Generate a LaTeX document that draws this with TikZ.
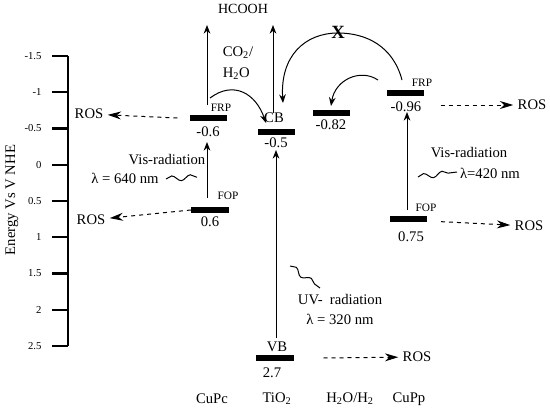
\documentclass[tikz,border=0pt]{standalone}
\usepackage{fontspec}
\setmainfont{Liberation Serif}
\usetikzlibrary{arrows.meta,decorations.pathmorphing}
\tikzset{
  lvl/.style={fill=black,inner sep=0pt,minimum width=28pt,minimum height=3.8pt},
  tag/.style={font=\fontsize{8.5}{10}\selectfont},
  ros/.style={dashed,shorten >=2pt,-{Stealth[length=10pt,width=6pt]}},
  wave/.style={decorate,decoration={snake,amplitude=2pt,segment length=14pt}},
}
\begin{document}
\begin{tikzpicture}[x=0.75pt,y=-0.75pt,line width=0.75pt,>={Stealth[length=6.5pt,width=5pt]},
  every node/.style={font=\fontsize{11}{13}\selectfont,inner sep=1pt}]
\useasboundingbox (0,0) rectangle (550,418);
% energy scale
\draw[line width=1.8pt] (68,56) -- (68,346);
\foreach \e [count=\i from 0] in {-1.5,-1,-0.5,0,0.5,1,1.5,2,2.5}
  \draw[line width=1.8pt] (52,56+36.25*\i) -- (68,56+36.25*\i)
    node[pos=0,left=6pt,font=\fontsize{8}{9}\selectfont] {\e};
\node[rotate=90] (elabel) at (12,200) {Energy Vs V NHE};

% levels
\node[lvl] (frpPc) at (208.5,118) {};
\node[lvl] (fopPc) at (210,210) {};
\node[lvl] (cb) at (276.5,132) {};
\node[lvl] (vb) at (275,358) {};
\node[lvl] (red) at (331.5,113) {};
\node[lvl] (frpPp) at (405.5,93) {};
\node[lvl] (fopPp) at (408.5,219) {};

% level labels
\node[tag] at (221,108) {FRP};
\node at (208,132) {-0.6};
\node[tag] at (228,196) {FOP};
\node at (210,222) {0.6};
\node (cbl) at (274,118) {CB};
\node at (276,143) {-0.5};
\node (vbl) at (277,347) {VB};
\node at (272,373) {2.7};
\node at (331,125) {-0.82};
\node[tag] at (422,83) {FRP};
\node at (406,107) {-0.96};
\node[tag] at (426,208) {FOP};
\node at (411,237) {0.75};

% products
\node[font=\fontsize{10.5}{12}\selectfont] (hcooh) at (243,9) {HCOOH};
\node[anchor=west] at (221,53) {CO\textsubscript{2}/};
\node[anchor=west] at (221,74) {H\textsubscript{2}O};
\coordinate (pcTop) at (207,25);
\coordinate (tiTop) at (273,25);
\draw[->] (207,105) -- (pcTop);
\draw[->] (273,113) -- (tiTop);

% excitation
\draw[->] (207,198) -- (207,142);
\draw[->] (276,338) -- (276,150);
\draw[->] (407,210) -- (407,112);

% electron transfer
\draw[->] (210,98) .. controls (234,80) and (256,94) .. (266,123);
\draw[->] (378,80) .. controls (360,68) and (335,80) .. (331,106);
\draw[->] (402,80) .. controls (393,46) and (366,33) .. (338,33)
  .. controls (305,33) and (280,56) .. (283,103);
\node[font=\fontsize{14}{14}\selectfont\bfseries] (stop) at (338,32) {X};

% ROS
\node (rosA) at (89,114) {ROS};
\node (rosB) at (91,220) {ROS};
\node (rosC) at (532,105) {ROS};
\node (rosD) at (529,226) {ROS};
\node (rosE) at (417,357) {ROS};
\draw[ros] ([xshift=-9pt]frpPc.west) -- (rosA);
\draw[ros] (fopPc.west) -- (rosB);
\draw[ros] ([xshift=12pt,yshift=-9pt]frpPp.east) -- (rosC);
\draw[ros] ([xshift=10pt,yshift=-2pt]fopPp.east) -- (rosD);
\draw[ros] ([xshift=22pt]vb.east) -- (rosE);

% radiation
\node at (167,160) {Vis-radiation};
\node at (125,178) {λ = 640 nm};
\draw[wave] (166,179) -- (197,177);
\node at (469,153) {Vis-radiation};
\node at (490,173) {λ=420 nm};
\draw[wave] (418,177) -- (457,172);
\node at (340,300) {UV-\ \ radiation};
\node at (340,319) {λ = 320 nm};
\draw[wave] (290,266) -- (320,288);

% compounds
\node at (212,399) {CuPc};
\node at (277,399) {TiO\textsubscript{2}};
\node at (350,399) {H\textsubscript{2}O/H\textsubscript{2}};
\node at (409,399) {CuPp};
\end{tikzpicture}
\end{document}
